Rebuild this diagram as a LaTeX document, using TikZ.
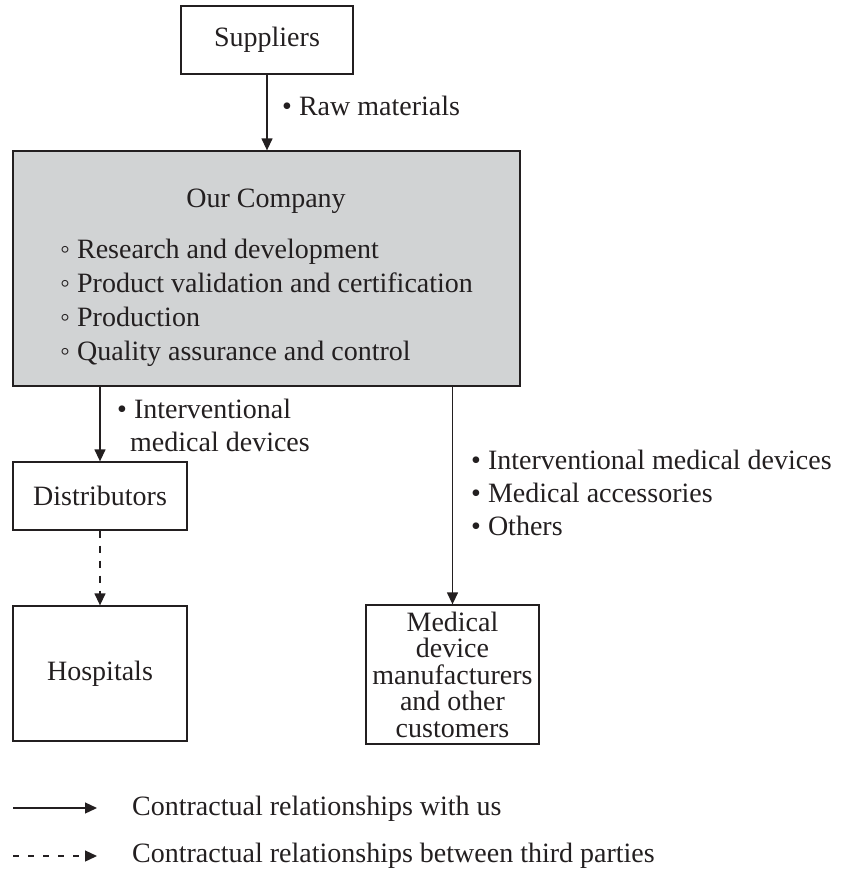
\documentclass[tikz,border=0pt]{standalone}
\usepackage{fontspec}
\setmainfont{Liberation Serif}
\usetikzlibrary{arrows.meta}
\definecolor{ink}{HTML}{231F20}
\definecolor{boxgray}{HTML}{D1D3D4}
\tikzset{
  box/.style={draw=ink, line width=1.3pt, inner sep=0pt, text=ink, align=center},
  arr/.style={draw=ink, line width=1.3pt, -{Triangle[length=12pt,width=11pt]}},
  darr/.style={arr, dash pattern=on 7pt off 8pt},
  lbl/.style={inner sep=0pt, anchor=base west, text=ink},
}
\begin{document}
\begin{tikzpicture}[x=1pt,y=-1pt,font=\fontsize{28}{33.5}\selectfont]
\useasboundingbox (0,0) rectangle (841,871);
% boxes
\node[box, minimum width=172pt, minimum height=68pt] (sup) at (267,40) {Suppliers};
\node[box, fill=boxgray, minimum width=507pt, minimum height=235pt] (comp) at (266.5,268.5) {};
\node[box, minimum width=174pt, minimum height=68pt] (dist) at (100,496) {Distributors};
\node[box, minimum width=174pt, minimum height=135pt] (hosp) at (100,673.5) {Hospitals};
\node[box, minimum width=173pt, minimum height=139pt, font=\fontsize{28}{26.5}\selectfont] (med) at (452.5,674.5) {Medical\\device\\manufacturers\\and other\\customers};
% company text
\node[inner sep=0pt, anchor=base, text=ink] (ctitle) at (266,207) {Our Company};
\node[lbl] (c1) at (60,258) {◦ Research and development};
\node[lbl] (c2) at (60,292) {◦ Product validation and certification};
\node[lbl] (c3) at (60,326) {◦ Production};
\node[lbl] (c4) at (60,360) {◦ Quality assurance and control};
% connectors
\draw[arr] (sup.south) -- (sup.south |- comp.north);
\draw[arr] (comp.south -| dist.north) -- (dist.north);
\draw[darr] (dist.south) -- (hosp.north);
\draw[arr] (comp.south -| med.north) -- (med.north);
% connector labels
\node[lbl] (raw) at (282,115) {• Raw materials};
\node[lbl] (ia) at (117,418) {• Interventional};
\node[lbl] (ib) at (130,451) {medical devices};
\node[lbl] (r1) at (471,469) {• Interventional medical devices};
\node[lbl] (r2) at (471,502) {• Medical accessories};
\node[lbl] (r3) at (471,535) {• Others};
% legend
\coordinate (l1a) at (13,808);
\coordinate (l1b) at (97,808);
\coordinate (l2a) at (13,856);
\coordinate (l2b) at (97,856);
\draw[arr] (l1a) -- (l1b);
\draw[arr, dash pattern=on 6pt off 9pt] (l2a) -- (l2b);
\node[lbl] (leg1) at (132,815) {Contractual relationships with us};
\node[lbl] (leg2) at (132,862) {Contractual relationships between third parties};
\end{tikzpicture}
\end{document}
